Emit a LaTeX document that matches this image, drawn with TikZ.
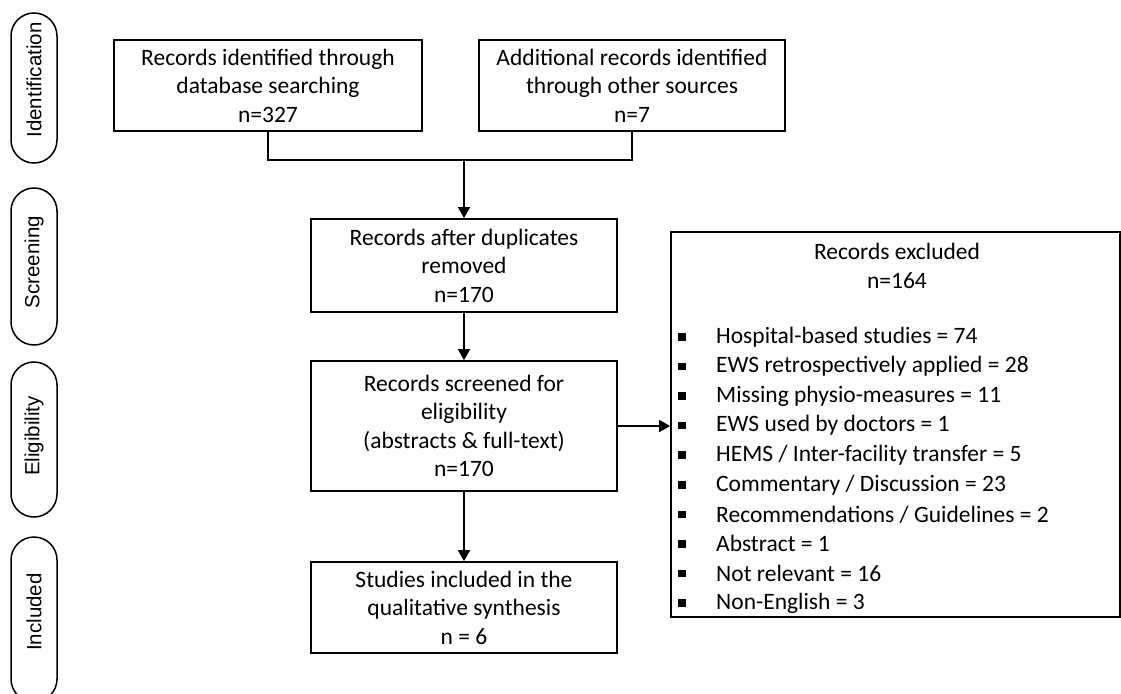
\documentclass[tikz,border=0pt]{standalone}
\usepackage{fontspec}
\setmainfont{Carlito}
\newfontfamily\pillfont{Liberation Sans}
\usetikzlibrary{arrows.meta}

\tikzset{
  flowbox/.style={draw=black, line width=1.7pt, rectangle, align=center,
    inner sep=0pt, font=\fontsize{23.5}{28.5}\selectfont},
  phase/.style={draw=black, line width=1.5pt, rounded corners=23pt,
    minimum width=46pt, inner sep=0pt},
  phaselabel/.style={rotate=90, font=\pillfont\fontsize{20.5}{24}\selectfont},
  flow/.style={line width=1.7pt, -{Triangle[length=11pt,width=12pt]}},
  link/.style={line width=1.7pt},
  bulletmark/.style={fill=black, rectangle, minimum size=7.5pt, inner sep=0pt},
  listitem/.style={anchor=west, inner sep=0pt, font=\fontsize{23.5}{28.5}\selectfont},
}

\begin{document}
\begin{tikzpicture}[x=1pt, y=-1pt]
\useasboundingbox (0,0) rectangle (1121,693);
\clip (0,0) rectangle (1121,693);

% phase labels on the left
\node[phase, minimum height=150pt] (pid) at (34,88) {};
\node[phaselabel] (lid) at (34,80) {Identification};
\node[phase, minimum height=157pt] (psc) at (34,266.5) {};
\node[phaselabel] (lsc) at (34,262) {Screening};
\node[phase, minimum height=155pt] (pel) at (34,439.5) {};
\node[phaselabel] (lel) at (34,436) {Eligibility};
\node[phase, minimum height=165pt] (pin) at (34,619.5) {};
\node[phaselabel] (lin) at (34,612) {Included};

% main flow boxes
\node[flowbox, minimum width=308pt, minimum height=91pt] (db) at (268,85.5)
  {Records identified through\\database searching\\n=327};
\node[flowbox, minimum width=306pt, minimum height=91pt] (other) at (632,85.5)
  {Additional records identified\\through other sources\\n=7};
\node[flowbox, minimum width=306pt, minimum height=93pt] (dup) at (464,265.5)
  {Records after duplicates\\removed\\n=170};
\node[flowbox, minimum width=306pt, minimum height=130pt] (scr) at (464,426)
  {Records screened for\\eligibility\\(abstracts \& full-text)\\n=170};
\node[flowbox, minimum width=306pt, minimum height=91pt] (inc) at (464,607.5)
  {Studies included in the\\qualitative synthesis\\n = 6};

% exclusion box
\node[draw=black, line width=1.7pt, rectangle, minimum width=449pt,
  minimum height=385pt, inner sep=0pt] (excl) at (895.5,424.5) {};
\node[flowbox, draw=none] (exttl) at (897,266) {Records excluded\\n=164};

\foreach \i/\txt in {0/{Hospital-based studies = 74},
                     1/{EWS retrospectively applied = 28},
                     2/{Missing physio-measures = 11},
                     3/{EWS used by doctors = 1},
                     4/{HEMS / Inter-facility transfer = 5},
                     5/{Commentary / Discussion = 23},
                     6/{Recommendations / Guidelines = 2},
                     7/{Abstract = 1},
                     8/{Not relevant = 16},
                     9/{Non-English = 3}} {
  \node[bulletmark] (b\i) at (682, 337+29.56*\i) {};
  \node[listitem] (t\i) at (716, 337+29.56*\i) {\txt};
}

% connectors
\coordinate (merge) at (464,160);
\draw[link] (db.south) |- (merge) -| (other.south);
\draw[flow] (merge) -- (dup.north);
\draw[flow] (dup.south) -- (scr.north);
\draw[flow] (scr.south) -- (inc.north);
\draw[flow] (scr.east) -- (scr.east -| excl.west);
\end{tikzpicture}
\end{document}
